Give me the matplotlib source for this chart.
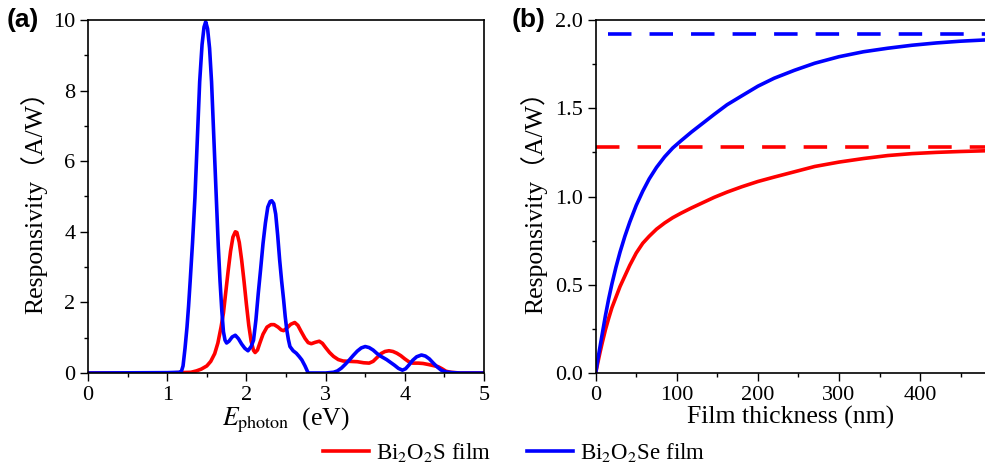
import numpy as np
import matplotlib
matplotlib.use('Agg')
import matplotlib.pyplot as plt
from matplotlib.ticker import MultipleLocator, FormatStrFormatter

plt.rcParams['font.family'] = ['Liberation Serif', 'Noto Sans CJK SC', 'DejaVu Serif']
plt.rcParams['mathtext.fontset'] = 'stix'

# (a) 光子エネルギーに対する応答度
e_s = [0.0, 1.0, 1.3, 1.37, 1.43, 1.5, 1.55, 1.6, 1.64, 1.68, 1.71, 1.74, 1.77,
       1.8, 1.83, 1.86, 1.88, 1.91, 1.94, 1.97, 2.0, 2.03, 2.06, 2.09, 2.11,
       2.14, 2.17, 2.21, 2.26, 2.31, 2.35, 2.4, 2.44, 2.47, 2.51, 2.56, 2.61,
       2.65, 2.69, 2.74, 2.78, 2.82, 2.87, 2.92, 2.96, 3.0, 3.05, 3.1, 3.16,
       3.22, 3.3, 3.4, 3.48, 3.55, 3.6, 3.65, 3.7, 3.75, 3.8, 3.85, 3.9, 3.95,
       4.0, 4.05, 4.1, 4.17, 4.23, 4.3, 4.36, 4.42, 4.47, 4.52, 4.58, 4.7, 5.0]
r_s = [0.0, 0.0, 0.02, 0.06, 0.11, 0.2, 0.33, 0.55, 0.85, 1.3, 1.7, 2.3, 2.9,
       3.45, 3.85, 4.0, 3.98, 3.7, 3.2, 2.6, 1.95, 1.35, 0.9, 0.64, 0.58,
       0.65, 0.85, 1.1, 1.3, 1.37, 1.37, 1.3, 1.22, 1.2, 1.27, 1.38, 1.43,
       1.35, 1.18, 0.98, 0.86, 0.83, 0.87, 0.9, 0.84, 0.72, 0.58, 0.47, 0.38,
       0.34, 0.33, 0.32, 0.29, 0.28, 0.33, 0.44, 0.55, 0.61, 0.63, 0.61, 0.56,
       0.49, 0.4, 0.32, 0.28, 0.28, 0.27, 0.24, 0.21, 0.18, 0.12, 0.05, 0.02,
       0.0, 0.0]

e_se = [0.0, 1.0, 1.15, 1.18, 1.2, 1.225, 1.25, 1.27, 1.29, 1.32, 1.35, 1.38,
        1.41, 1.44, 1.465, 1.486, 1.51, 1.535, 1.56, 1.59, 1.62, 1.645, 1.667,
        1.69, 1.71, 1.73, 1.75, 1.78, 1.82, 1.86, 1.9, 1.94, 1.98, 2.02, 2.06,
        2.09, 2.12, 2.15, 2.18, 2.21, 2.24, 2.27, 2.3, 2.32, 2.345, 2.37, 2.395,
        2.42, 2.445, 2.47, 2.49, 2.51, 2.53, 2.55, 2.59, 2.63, 2.665, 2.7, 2.74,
        2.78, 3.0, 3.05, 3.1, 3.15, 3.2, 3.25, 3.3, 3.35, 3.4, 3.45, 3.5, 3.55,
        3.6, 3.65, 3.7, 3.77, 3.82, 3.87, 3.92, 3.97, 4.01, 4.05, 4.1, 4.15,
        4.21, 4.26, 4.31, 4.36, 4.41, 4.46, 4.52, 4.6, 4.7, 5.0]
r_se = [0.0, 0.01, 0.02, 0.05, 0.2, 0.7, 1.3, 1.9, 2.6, 3.7, 4.96, 6.6,
        8.25, 9.3, 9.8, 9.95, 9.75, 9.2, 8.25, 6.6, 4.96, 3.6, 2.6,
        1.75, 1.17, 0.93, 0.85, 0.9, 1.02, 1.07, 0.97, 0.82, 0.7, 0.63, 0.75,
        0.93, 1.5, 2.26, 2.95, 3.67, 4.25, 4.7, 4.86, 4.88, 4.8, 4.5, 3.9,
        3.2, 2.6, 2.07, 1.6, 1.22, 0.95, 0.75, 0.63, 0.56, 0.47, 0.37, 0.2,
        0.0, 0.0, 0.01, 0.02, 0.06, 0.14, 0.25, 0.37, 0.5, 0.62, 0.71, 0.75, 0.72,
        0.65, 0.55, 0.47, 0.38, 0.3, 0.22, 0.13, 0.08, 0.12, 0.22, 0.36, 0.46,
        0.51, 0.48, 0.4, 0.28, 0.17, 0.08, 0.03, 0.01, 0.0, 0.0]

# (b) 膜厚に対する応答度
t_s = [0, 2, 5, 8, 12, 16, 20, 25, 30, 36, 42, 50, 58, 66, 75, 85, 95, 105,
       118, 132, 146, 162, 180, 200, 220, 245, 270, 300, 330, 360, 390, 420,
       450, 480]
rt_s = [0, 0.045, 0.11, 0.17, 0.245, 0.31, 0.37, 0.43, 0.49, 0.55, 0.61, 0.68,
        0.735, 0.775, 0.815, 0.85, 0.88, 0.905, 0.935, 0.965, 0.995, 1.025,
        1.055, 1.085, 1.11, 1.14, 1.17, 1.195, 1.215, 1.232, 1.243, 1.25,
        1.255, 1.259]
t_se = [0, 2, 5, 8, 12, 16, 20, 25, 30, 36, 42, 50, 58, 66, 75, 85, 95, 105,
        118, 132, 146, 162, 180, 200, 220, 245, 270, 300, 330, 360, 390, 420,
        450, 480]
rt_se = [0, 0.06, 0.14, 0.22, 0.325, 0.42, 0.505, 0.6, 0.685, 0.775, 0.855,
         0.95, 1.03, 1.1, 1.165, 1.225, 1.275, 1.315, 1.365, 1.415, 1.465,
         1.52, 1.57, 1.625, 1.67, 1.715, 1.755, 1.792, 1.82, 1.84, 1.857,
         1.87, 1.88, 1.887]
# 飽和値（破線）
sat_s = 1.283
sat_se = 1.921

red = '#ff0000'
blue = '#0000ff'
ylab = 'Responsivity\uff08A/W\uff09'

fig = plt.figure(figsize=(9.85, 4.7), dpi=100)
ax1 = fig.add_axes([88/985, 97/470, 396/985, 353/470])
ax2 = fig.add_axes([595.7/985, 97/470, 389.3/985, 353/470])

l1, = ax1.plot(e_s, r_s, color=red, lw=2.6)
l2, = ax1.plot(e_se, r_se, color=blue, lw=2.6)
ax1.set_xlim(0, 5)
ax1.set_ylim(0, 10)
ax1.xaxis.set_major_locator(MultipleLocator(1))
ax1.xaxis.set_minor_locator(MultipleLocator(0.5))
ax1.yaxis.set_major_locator(MultipleLocator(2))
ax1.yaxis.set_minor_locator(MultipleLocator(1))
ax1.set_xlabel(r'$E_{\mathrm{photon}}$  (eV)', fontsize=18.5, labelpad=1)
ax1.set_ylabel(ylab, fontsize=18.5, labelpad=4)

ax2.plot(t_s, rt_s, color=red, lw=2.6)
ax2.plot(t_se, rt_se, color=blue, lw=2.6)
ax2.plot([0, 480], [sat_s, sat_s], color=red, lw=2.6, dashes=(6.5, 5))
ax2.plot([15, 480], [sat_se, sat_se], color=blue, lw=2.6, dashes=(6.5, 5))
ax2.set_xlim(0, 480)
ax2.set_ylim(0, 2.0)
ax2.xaxis.set_major_locator(MultipleLocator(100))
ax2.xaxis.set_minor_locator(MultipleLocator(50))
ax2.yaxis.set_major_locator(MultipleLocator(0.5))
ax2.yaxis.set_minor_locator(MultipleLocator(0.25))
ax2.yaxis.set_major_formatter(FormatStrFormatter('%.1f'))
ax2.spines['right'].set_visible(False)
ax2.set_xlabel('Film thickness (nm)', fontsize=18.5, labelpad=1)
ax2.set_ylabel(ylab, fontsize=18.5, labelpad=6)

for ax in (ax1, ax2):
    ax.tick_params(which='major', direction='out', length=6, width=1,
                   labelsize=16, pad=3)
    ax.tick_params(which='minor', direction='out', length=3, width=1)
    for s in ax.spines.values():
        s.set_linewidth(1.2)

fig.text(7/985, 1 - 20/470, '(a)', family='Liberation Sans', weight='bold',
         fontsize=19, va='center', ha='left')
fig.text(512/985, 1 - 20/470, '(b)', family='Liberation Sans', weight='bold',
         fontsize=19, va='center', ha='left')

fig.legend([l1, l2], [r'Bi$_2$O$_2$S film', r'Bi$_2$O$_2$Se film'],
           loc='center', bbox_to_anchor=(0.522, 0.038), ncol=2, frameon=False,
           fontsize=16.5, handlelength=2.0, handletextpad=0.3, columnspacing=1.6,
           borderaxespad=0, borderpad=0)

fig.savefig('out.png', dpi=100)
